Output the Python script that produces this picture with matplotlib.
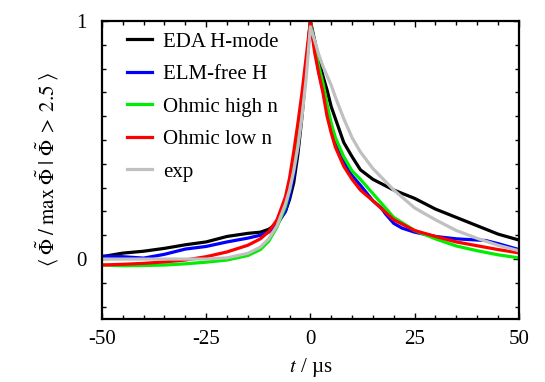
import matplotlib
matplotlib.use('Agg')
import matplotlib.pyplot as plt
from matplotlib.ticker import MultipleLocator

plt.rcParams['font.family'] = ['Liberation Serif', 'DejaVu Serif']
plt.rcParams['mathtext.fontset'] = 'stix'

# time axis (microseconds)
t = [-50, -45, -40, -35, -30, -25, -20, -15, -12, -10, -8, -6, -5, -4, -3, -2, -1,
     0, 1, 2, 3, 4, 5, 6, 8, 10, 12, 15, 20, 25, 30, 35, 40, 45, 50]

eda_h = [0.01, 0.025, 0.033, 0.045, 0.06, 0.072, 0.095, 0.108, 0.113, 0.125, 0.15, 0.2, 0.25, 0.32, 0.44, 0.6, 0.8,
         1.0, 0.92, 0.84, 0.77, 0.71, 0.64, 0.59, 0.49, 0.43, 0.375, 0.335, 0.29, 0.255, 0.21, 0.175, 0.14, 0.105, 0.08]

t_blue = [-50, -45, -40, -35, -30, -25, -20, -15, -12, -10, -8, -6, -5, -4, -3, -2, -1,
          0, 1, 2, 3, 4, 5, 6, 8, 10, 12, 15, 17, 18, 20, 22, 25, 30, 35, 40, 42, 45, 50]
elm_free = [0.012, 0.01, 0.004, 0.02, 0.042, 0.053, 0.072, 0.088, 0.1, 0.113, 0.145, 0.2, 0.26, 0.35, 0.47, 0.62, 0.8,
            1.0, 0.89, 0.79, 0.71, 0.63, 0.56, 0.5, 0.41, 0.35, 0.31, 0.245, 0.215, 0.19, 0.15, 0.13, 0.113, 0.095, 0.085,
            0.08, 0.078, 0.065, 0.04]

ohm_high = [-0.025, -0.028, -0.027, -0.025, -0.02, -0.013, -0.004, 0.015, 0.04, 0.075, 0.135, 0.22, 0.29, 0.38, 0.5, 0.64, 0.8,
            1.0, 0.9, 0.81, 0.74, 0.65, 0.57, 0.51, 0.43, 0.37, 0.335, 0.275, 0.175, 0.12, 0.085, 0.055, 0.035, 0.018, 0.005]

ohm_low = [-0.025, -0.022, -0.018, -0.012, -0.004, 0.01, 0.03, 0.058, 0.085, 0.115, 0.165, 0.26, 0.34, 0.45, 0.57, 0.7, 0.85,
           1.0, 0.87, 0.78, 0.7, 0.6, 0.53, 0.47, 0.39, 0.335, 0.29, 0.245, 0.165, 0.12, 0.095, 0.072, 0.056, 0.04, 0.026]

exp_fit = [0.0, 0.0, 0.0, 0.0, 0.0, 0.0, 0.005, 0.024, 0.05, 0.085, 0.14, 0.23, 0.29, 0.37, 0.47, 0.6, 0.76,
           0.976, 0.92, 0.86, 0.81, 0.77, 0.73, 0.68, 0.59, 0.51, 0.45, 0.38, 0.29, 0.215, 0.165, 0.12, 0.087, 0.058, 0.035]

fig = plt.figure(figsize=(5.45, 3.82), dpi=100)
ax = fig.add_axes([0.187, 0.166, 0.765, 0.779])

lw = 2.3
ax.plot(t, eda_h, color='black', lw=lw, label='EDA H-mode')
ax.plot(t_blue, elm_free, color='#0000ff', lw=lw, label='ELM-free H')
ax.plot(t, ohm_high, color='#00ee00', lw=lw, label='Ohmic high n')
ax.plot(t, ohm_low, color='#ff0000', lw=lw, label='Ohmic low n')
ax.plot(t, exp_fit, color='#c0c0c0', lw=lw, label='exp')

ax.set_xlim(-50, 50)
ax.set_ylim(-0.25, 1)
ax.set_xticks([-50, -25, 0, 25, 50])
ax.set_xticklabels(['-50', '-25', '0', '25', '50'])
ax.set_yticks([0, 1])
ax.xaxis.set_minor_locator(MultipleLocator(5))
ax.yaxis.set_minor_locator(MultipleLocator(0.1))
ax.tick_params(which='both', direction='in', top=True, right=True, width=1, labelsize=15)
ax.tick_params(which='major', length=4)
ax.tick_params(axis='x', which='major', pad=8)
ax.tick_params(axis='y', which='major', pad=11)
ax.tick_params(which='minor', length=3)
for s in ax.spines.values():
    s.set_linewidth(1.6)

ax.set_xlabel(r'$t$ / µs', fontsize=15, labelpad=5)
ax.set_ylabel(r'$\langle\;\tilde{\Phi}\;/\;\max\;\tilde{\Phi}\;|\;\tilde{\Phi}\;>\;2.5\;\rangle$', fontsize=15, labelpad=12)

ax.legend(loc='upper left', frameon=False, fontsize=15, handlelength=1.2, handletextpad=0.55,
          labelspacing=0.62, borderpad=0, borderaxespad=0, bbox_to_anchor=(0.06, 0.963))

fig.savefig('out.png', dpi=100)
